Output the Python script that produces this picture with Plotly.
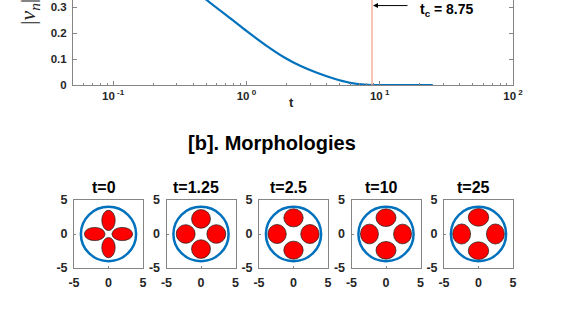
import numpy as np
import plotly.graph_objects as go

# ---------------- data ----------------
t_vals = [0.05, 0.1, 0.2, 0.3, 0.4, 0.506, 0.79, 1.0, 1.41, 1.9, 2.53, 3.38, 4.51, 6.0, 7.6, 10.0, 15.0, 25.0]
vn_vals = [0.78, 0.66, 0.52, 0.44, 0.375, 0.327, 0.25, 0.209, 0.152, 0.108, 0.074, 0.047, 0.025, 0.0085, 0.002, 0.0, 0.0, 0.0]
t_c = 8.75

y_ticks = [0, 0.1, 0.2, 0.3]
y_ticklabels = ["0", "0.1", "0.2", "0.3"]
x_ticks = [0.1, 1, 10, 100]
x_ticklabels = ["10<sup> -1</sup>", "10<sup> 0</sup>", "10<sup> 1</sup>", "10<sup> 2</sup>"]

panel_titles = ["t=0", "t=1.25", "t=2.5", "t=10", "t=25"]
blob_dist = [2.0, 2.22, 2.38, 2.4, 2.45]        # centre distance of each drop
blob_radial = [1.5, 1.37, 1.33, 1.3, 1.3]       # semi-axis along radius
blob_tangent = [0.97, 1.37, 1.40, 1.45, 1.48]   # semi-axis across radius
outer_radius = [4.0, 4.0, 4.0, 4.0, 4.0]
panel_ticks = [-5, 0, 5]
panel_ticklabels = ["-5", "0", "5"]

# ---------------- layout helpers ----------------
W, H = 568, 312
def px(x):
    return x / W
def py(y):
    return 1 - y / H

FONT = "Liberation Sans, Arial, Helvetica, sans-serif"
TXT = "#262626"
AX = "#858585"
BLUE = "#0072BD"

fig = go.Figure()

# main curve
fig.add_trace(go.Scatter(x=t_vals, y=vn_vals, mode="lines", line=dict(color=BLUE, width=2.2, shape="spline", smoothing=0.8),
                         xaxis="x", yaxis="y", showlegend=False, hoverinfo="skip"))
# critical time line
fig.add_trace(go.Scatter(x=[t_c, t_c], y=[0, 1], mode="lines", line=dict(color="#F4A68E", width=1.3),
                         xaxis="x", yaxis="y", showlegend=False, hoverinfo="skip"))

minor_vals = [k * 10.0 ** e for e in (-2, -1, 0, 1) for k in range(2, 10) if 0.05 <= k * 10.0 ** e <= 100]

layout = dict(
    width=W, height=H, margin=dict(l=0, r=0, t=0, b=0, autoexpand=False),
    paper_bgcolor="white", plot_bgcolor="white", showlegend=False,
    font=dict(family=FONT, color=TXT),
    xaxis=dict(type="log", range=[np.log10(0.05), 2], domain=[px(73), px(513)], anchor="y", automargin=False,
               tickmode="array", tickvals=x_ticks, ticktext=x_ticklabels,
               ticks="inside", ticklen=4, tickcolor=AX, showline=True, linecolor=AX, linewidth=1,
               mirror=False, showgrid=False, zeroline=False,
               tickfont=dict(size=11.5, weight="bold", color=TXT),
               minor=dict(tickvals=minor_vals, ticks="inside", ticklen=2.5, tickcolor=AX, showgrid=False)),
    yaxis=dict(range=[0, 0.328], domain=[py(85), 1], anchor="x", automargin=False,
               tickmode="array", tickvals=y_ticks, ticktext=y_ticklabels,
               ticks="inside", ticklen=4, tickcolor=AX, showline=True, linecolor=AX, linewidth=1,
               mirror="ticks", showgrid=False, zeroline=False, ticklabelstandoff=3,
               tickfont=dict(size=11.5, weight="bold", color=TXT)),
)

shapes = []
annotations = []

lefts = [74, 166.5, 259, 351.5, 444]
pw = 69
for i in range(5):
    n = i + 2
    xa, ya = f"xaxis{n}", f"yaxis{n}"
    common = dict(range=[-5, 5], tickmode="array", tickvals=panel_ticks, ticktext=panel_ticklabels,
                  ticks="inside", ticklen=2, tickcolor=AX, automargin=False,
                  showline=True, linecolor=AX, linewidth=1, mirror=True, showgrid=False, zeroline=False,
                  ticklabelstandoff=3, tickfont=dict(size=12.5, weight="bold", color=TXT))
    layout[xa] = dict(domain=[px(lefts[i]), px(lefts[i] + pw)], anchor=f"y{n}", **common)
    layout[ya] = dict(domain=[py(268), py(200)], anchor=f"x{n}", **common)
    xr, yr = f"x{n}", f"y{n}"
    d, a_r, a_t = blob_dist[i], blob_radial[i], blob_tangent[i]
    # four drops: right, left (horizontal radial), top, bottom (vertical radial)
    for cx, cy, sx, sy in [(d, 0, a_r, a_t), (-d, 0, a_r, a_t), (0, d, a_t, a_r), (0, -d, a_t, a_r)]:
        shapes.append(dict(type="circle", xref=xr, yref=yr, x0=cx - sx, x1=cx + sx, y0=cy - sy, y1=cy + sy,
                           fillcolor="#FF0000", line=dict(color="#1a1a1a", width=0.7), layer="above"))
    R = outer_radius[i]
    shapes.append(dict(type="circle", xref=xr, yref=yr, x0=-R, x1=R, y0=-R, y1=R,
                       line=dict(color=BLUE, width=2.5), layer="above"))
    annotations.append(dict(text=f"<b>{panel_titles[i]}</b>", xref="paper", yref="paper",
                            x=px(lefts[i] + pw / 2 - 5), y=py(187), xanchor="center", yanchor="middle",
                            showarrow=False, font=dict(size=16, color="black", family=FONT)))

# y label (rotated)
annotations.append(dict(text="|<i>v</i><sub><i>n</i></sub>|", xref="paper", yref="paper", x=px(29), y=py(12),
                        xanchor="center", yanchor="middle", textangle=-90, showarrow=False,
                        font=dict(size=22, family="Liberation Serif, DejaVu Serif, serif", color=TXT)))
# x label
annotations.append(dict(text="<b>t</b>", xref="paper", yref="paper", x=px(291), y=py(103),
                        xanchor="center", yanchor="middle", showarrow=False, font=dict(size=13, color=TXT)))
# arrow to t_c
annotations.append(dict(text="", x=np.log10(t_c), y=0.3065, xref="x", yref="y", ax=37, ay=0,
                        showarrow=True, arrowhead=2, arrowsize=1, arrowwidth=1, arrowcolor="black", standoff=1))
annotations.append(dict(text="<b>t<sub>c</sub> = 8.75</b>", xref="paper", yref="paper", x=px(418), y=py(10),
                        xanchor="left", yanchor="middle", showarrow=False, font=dict(size=14, color="black")))
# section title
annotations.append(dict(text="<b>[b]. Morphologies</b>", xref="paper", yref="paper", x=px(272), y=py(143),
                        xanchor="center", yanchor="middle", showarrow=False, font=dict(size=20, color="black")))

layout["shapes"] = shapes
layout["annotations"] = annotations
fig.update_layout(**layout)
fig.write_html("out.html", config={"displayModeBar": False},
               post_script="document.body.style.margin='0px';")
